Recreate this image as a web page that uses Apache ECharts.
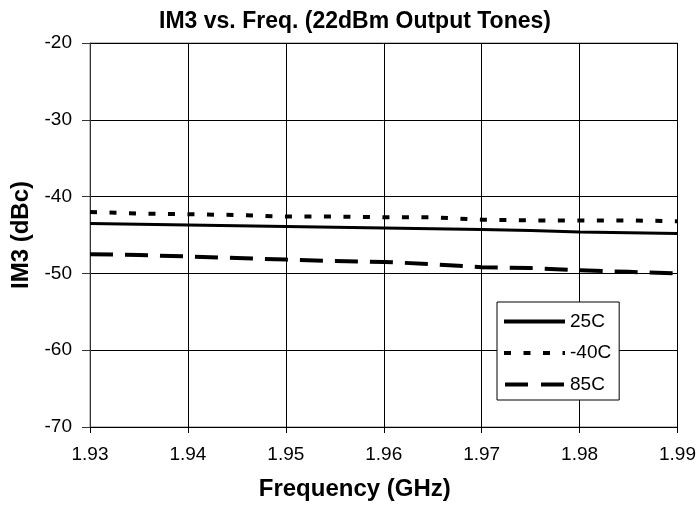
<!DOCTYPE html>
<html><head><meta charset="utf-8">
<script src="https://cdn.jsdelivr.net/npm/echarts@6/dist/echarts.min.js"></script>
<style>html,body{margin:0;padding:0;background:#fff}#c{width:699px;height:506px}</style>
</head><body><div id="c"></div>
<script>
const freqs = [1.93, 1.935, 1.94, 1.945, 1.95, 1.955, 1.96, 1.965, 1.97, 1.975, 1.98, 1.985, 1.99];
const im3_25C = [-43.5, -43.6, -43.7, -43.8, -43.9, -44.0, -44.1, -44.2, -44.3, -44.4, -44.6, -44.7, -44.8];
const im3_m40C = [-42.0, -42.2, -42.3, -42.4, -42.6, -42.6, -42.7, -42.7, -43.0, -43.1, -43.1, -43.1, -43.2];
const im3_85C = [-47.5, -47.6, -47.8, -48.0, -48.2, -48.4, -48.5, -48.8, -49.2, -49.3, -49.6, -49.8, -50.0];
const seriesNames = ['25C', '-40C', '85C'];
const xTicks = [1.93, 1.94, 1.95, 1.96, 1.97, 1.98, 1.99];
const yTicks = [-70, -60, -50, -40, -30, -20];

const font = '"Liberation Sans", Arial, sans-serif';
function pairs(v){ return freqs.map((f,i)=>[f, v[i]]); }
const icons = [
  'path://M0 0H61V4H0Z',
  'path://M0 0H7V4H0Z M19.5 0H26.5V4H19.5Z M39 0H46V4H39Z M58.5 0H61V4H58.5Z',
  'path://M0 0H23V4H0Z M36 0H59V4H36Z'
];
const chart = echarts.init(document.getElementById('c'));
chart.setOption({
  animation: false,
  backgroundColor: '#fff',
  title: { text: 'IM3 vs. Freq. (22dBm Output Tones)', left: 350, textAlign: 'center', top: 5,
    textStyle: { fontFamily: font, fontSize: 23, fontWeight: 'bold', color: '#000' } },
  grid: { left: 90, right: 21, top: 43, bottom: 78, show: true, borderColor: '#808080', borderWidth: 1 },
  legend: {
    orient: 'vertical', left: 497, top: 302,
    data: seriesNames.map((n,i)=>({ name: n, icon: icons[i] })),
    backgroundColor: '#fff', borderColor: '#000', borderWidth: 1, borderRadius: 0,
    padding: [10, 8, 6, 7], itemGap: 12.5, itemWidth: 61, itemHeight: 4,
    itemStyle: { color: '#000' },
    textStyle: { fontFamily: font, fontSize: 19, color: '#000' }
  },
  xAxis: {
    type: 'value', min: xTicks[0], max: xTicks[xTicks.length-1], interval: 0.01,
    name: 'Frequency (GHz)', nameLocation: 'middle', nameGap: 50,
    nameTextStyle: { fontFamily: font, fontSize: 24, fontWeight: 'bold', color: '#000', padding: [0, 58, 0, 0] },
    axisLine: { lineStyle: { color: '#000', width: 1 } },
    axisTick: { show: true, length: 6, lineStyle: { color: '#000' } },
    axisLabel: { fontFamily: font, fontSize: 19, color: '#000', margin: 18, formatter: v => v.toFixed(2) },
    splitLine: { show: true, lineStyle: { color: '#000', width: 1 } }
  },
  yAxis: {
    type: 'value', min: yTicks[0], max: yTicks[yTicks.length-1], interval: 10,
    name: 'IM3 (dBc)', nameLocation: 'middle', nameGap: 57,
    nameTextStyle: { fontFamily: font, fontSize: 24, fontWeight: 'bold', color: '#000' },
    axisLine: { show: true, lineStyle: { color: '#333', width: 1 } },
    axisTick: { show: true, length: 8, lineStyle: { color: '#333' } },
    axisLabel: { fontFamily: font, fontSize: 19, color: '#000', margin: 18 },
    splitLine: { show: true, lineStyle: { color: '#000', width: 1 } }
  },
  series: [
    { name: seriesNames[0], type: 'line', data: pairs(im3_25C), symbol: 'none', z: 5,
      lineStyle: { color: '#000', width: 3, type: 'solid' }, itemStyle: { color: '#000' } },
    { name: seriesNames[1], type: 'line', data: pairs(im3_m40C), symbol: 'none', z: 5,
      lineStyle: { color: '#000', width: 4, type: [7, 12.5] }, itemStyle: { color: '#000' } },
    { name: seriesNames[2], type: 'line', data: pairs(im3_85C), symbol: 'none', z: 5,
      lineStyle: { color: '#000', width: 4, type: [23, 12] }, itemStyle: { color: '#000' } }
  ]
});
</script></body></html>
